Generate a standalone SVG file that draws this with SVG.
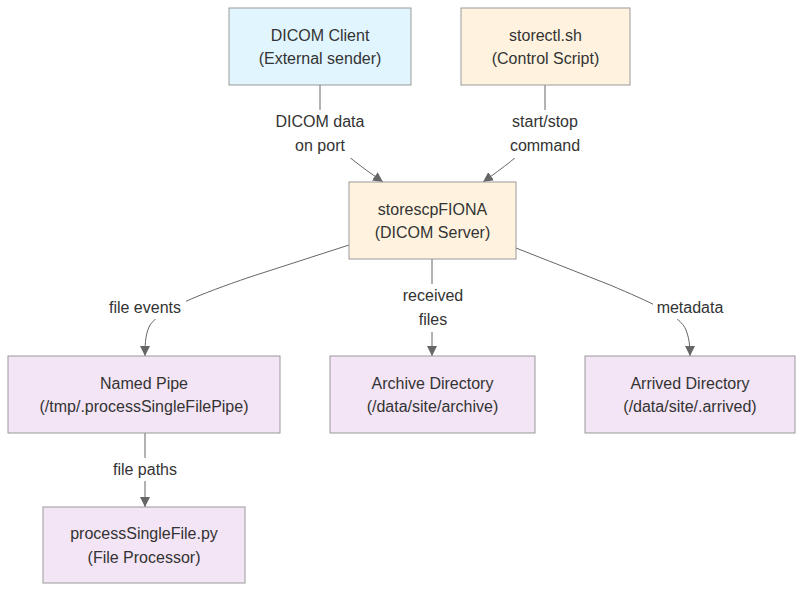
<svg xmlns="http://www.w3.org/2000/svg" width="811" height="598" viewBox="0 0 811 598">
<defs>
<style>
.node rect{stroke:#999;stroke-width:1}
.blue rect{fill:#e1f5fe}
.orange rect{fill:#fff3e0}
.purple rect{fill:#f3e5f5}
text{font-family:"Liberation Sans",Arial,sans-serif;font-size:16px;fill:#333;text-anchor:middle}
.edge{fill:none;stroke:#666;stroke-width:1}
.lbl rect{fill:#fff}
</style>
<marker id="arr" viewBox="0 0 10 10" refX="10" refY="5" markerWidth="10" markerHeight="10" markerUnits="userSpaceOnUse" orient="auto">
<path d="M0,0 L10,5 L0,10 z" fill="#666"/>
</marker>
</defs>
<rect width="811" height="598" fill="#fff"/>
<g id="connectors">
<path class="edge" d="M320,85 L320,110 C320,135 340,152 383,182" marker-end="url(#arr)"/>
<path class="edge" d="M545,85 L545,110 C545,135 525,152 483,182" marker-end="url(#arr)"/>
<path class="edge" d="M349,245 L250,277 C200,294 160,310 150,325 C146,333 145,340 145,356" marker-end="url(#arr)"/>
<path class="edge" d="M432,259 L432,356" marker-end="url(#arr)"/>
<path class="edge" d="M516,248 L610,285 C650,302 680,315 686,330 C689,338 690,345 690,356" marker-end="url(#arr)"/>
<path class="edge" d="M145,433 L145,507" marker-end="url(#arr)"/>
<g class="lbl">
<rect x="277" y="110" width="86" height="48"/>
<text x="320" y="127">DICOM data</text>
<text x="320" y="151">on port</text>
<rect x="506" y="110" width="78" height="48"/>
<text x="545" y="127">start/stop</text>
<text x="545" y="151">command</text>
<rect x="104" y="296" width="82" height="23"/>
<text x="145" y="313">file events</text>
<rect x="400" y="284" width="66" height="48"/>
<text x="433" y="301">received</text>
<text x="433" y="325">files</text>
<rect x="653" y="296" width="74" height="23"/>
<text x="690" y="313">metadata</text>
<rect x="108" y="458" width="74" height="23"/>
<text x="145" y="475">file paths</text>
</g>
</g>
<g id="client" class="node blue">
<rect x="229" y="8" width="182" height="77"/>
<text x="320" y="40.5">DICOM Client</text>
<text x="320" y="64">(External sender)</text>
</g>
<g id="storectl" class="node orange">
<rect x="461" y="8" width="169" height="77"/>
<text x="545.5" y="40.5">storectl.sh</text>
<text x="545.5" y="64">(Control Script)</text>
</g>
<g id="storescp" class="node orange">
<rect x="349" y="182" width="167" height="77"/>
<text x="432.5" y="214.5">storescpFIONA</text>
<text x="432.5" y="238">(DICOM Server)</text>
</g>
<g id="pipe" class="node purple">
<rect x="8" y="356" width="272" height="77"/>
<text x="144" y="388.5">Named Pipe</text>
<text x="144" y="412">(/tmp/.processSingleFilePipe)</text>
</g>
<g id="archive" class="node purple">
<rect x="330" y="356" width="205" height="77"/>
<text x="432.5" y="388.5">Archive Directory</text>
<text x="432.5" y="412">(/data/site/archive)</text>
</g>
<g id="arrived" class="node purple">
<rect x="585" y="356" width="210" height="77"/>
<text x="690" y="388.5">Arrived Directory</text>
<text x="690" y="412">(/data/site/.arrived)</text>
</g>
<g id="processor" class="node purple">
<rect x="43" y="507" width="202" height="76"/>
<text x="144" y="539">processSingleFile.py</text>
<text x="144" y="562.5">(File Processor)</text>
</g>
</svg>
